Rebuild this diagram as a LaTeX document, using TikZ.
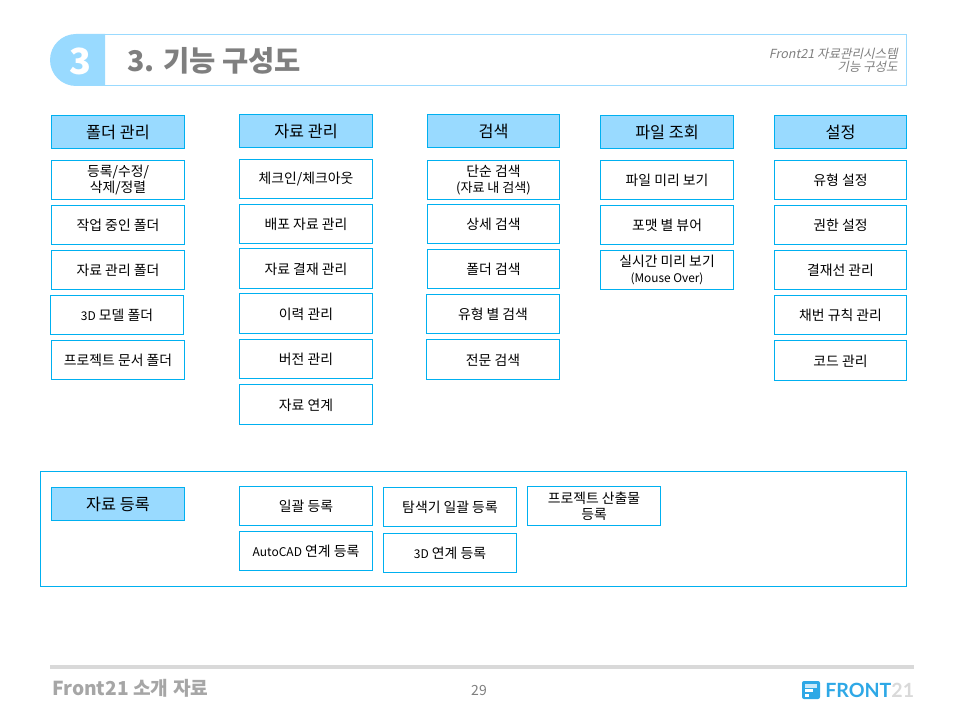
\documentclass[tikz,border=0pt]{standalone}
\usepackage{fontspec}
\setmainfont{Noto Sans CJK KR}
\newfontfamily\slfont[FakeSlant=0.22]{Noto Sans CJK KR}
\newfontfamily\logofont{Lato}
\definecolor{bluefill}{HTML}{99DAFF}
\definecolor{edgeblue}{HTML}{00B0F0}
\definecolor{titleedge}{HTML}{99DAFF}
\definecolor{titlegray}{HTML}{7F7F7F}
\definecolor{footgray}{HTML}{A6A6A6}
\definecolor{rulegray}{HTML}{D9D9D9}
\definecolor{logoblue}{HTML}{2EA8E6}
\tikzset{
  x=0.75pt,y=-0.75pt,
  box/.style={draw=edgeblue,line width=0.75pt,fill=white,inner sep=0pt,align=center,font=\fontsize{10.4}{12.2}\selectfont,text=black,execute at begin node={\rule{0pt}{0.9em}}},
  hdr/.style={box,fill=bluefill,font=\fontsize{12.2}{14}\selectfont},
  rbox/.style n args={4}{box,minimum width=(#3-#1-1)*0.75pt,minimum height=(#4-#2-1)*0.75pt,anchor=center,at={(#1/2+#3/2,#2/2+#4/2)}},
  rhdr/.style n args={4}{hdr,minimum width=(#3-#1-1)*0.75pt,minimum height=(#4-#2-1)*0.75pt,anchor=center,at={(#1/2+#3/2,#2/2+#4/2)}},
}
\begin{document}
\begin{tikzpicture}
\useasboundingbox (0,0) rectangle (960,720);
% title band
\draw[draw=titleedge,line width=0.75pt] (76,34.5) -- (906.5,34.5) -- (906.5,86) -- (76,86);
\fill[bluefill] (105,34) -- (76,34) arc[start angle=-90,end angle=-270,x radius=26,y radius=26] -- (105,86) -- cycle;
\node[text=white,font=\fontsize{27}{30}\bfseries\selectfont,anchor=center] (num) at (80,61.5) {3};
\node[text=titlegray,font=\fontsize{21.4}{24}\bfseries\selectfont,anchor=west,inner sep=0pt] (ttl) at (127,61) {3. 기능 구성도};
\node[text=titlegray,font=\slfont\fontsize{9.4}{9.6}\selectfont,align=right,anchor=east,inner sep=0pt] (sub) at (898,60) {Front21 자료관리시스템\\기능 구성도};
% column 1
\node[rhdr={51}{115}{185}{149}] (a0) {폴더 관리};
\node[rbox={51}{160}{185}{200}] (a1) {등록/수정/\\삭제/정렬};
\node[rbox={51}{205}{185}{245}] (a2) {작업 중인 폴더};
\node[rbox={51}{250}{185}{290}] (a3) {자료 관리 폴더};
\node[rbox={50}{295}{184}{335}] (a4) {{\fontsize{9}{10}\selectfont 3D} 모델 폴더};
\node[rbox={51}{340}{185}{380}] (a5) {프로젝트 문서 폴더};
% column 2
\node[rhdr={239}{114}{373}{148}] (b0) {자료 관리};
\node[rbox={239}{159}{373}{199}] (b1) {체크인/체크아웃};
\node[rbox={239}{204}{373}{244}] (b2) {배포 자료 관리};
\node[rbox={239}{248}{373}{289}] (b3) {자료 결재 관리};
\node[rbox={239}{293}{373}{334}] (b4) {이력 관리};
\node[rbox={239}{339}{373}{379}] (b5) {버전 관리};
\node[rbox={239}{384}{373}{425}] (b6) {자료 연계};
% column 3
\node[rhdr={427}{114}{560}{148}] (c0) {검색};
\node[rbox={427}{160}{560}{200}] (c1) {단순 검색\\{\fontsize{9.8}{11}\selectfont (자료 내 검색)}};
\node[rbox={427}{204}{560}{244}] (c2) {상세 검색};
\node[rbox={427}{249}{560}{289}] (c3) {폴더 검색};
\node[rbox={426}{294}{560}{334}] (c4) {유형 별 검색};
\node[rbox={426}{339}{560}{380}] (c5) {전문 검색};
% column 4
\node[rhdr={600}{115}{734}{149}] (d0) {파일 조회};
\node[rbox={600}{160}{734}{200}] (d1) {파일 미리 보기};
\node[rbox={600}{205}{734}{245}] (d2) {포맷 별 뷰어};
\node[rbox={600}{250}{734}{290}] (d3) {실시간 미리 보기\\{\fontsize{8.9}{10}\selectfont (Mouse Over)}};
% column 5
\node[rhdr={774}{115}{907}{149}] (e0) {설정};
\node[rbox={774}{160}{907}{200}] (e1) {유형 설정};
\node[rbox={774}{205}{907}{245}] (e2) {권한 설정};
\node[rbox={774}{250}{907}{290}] (e3) {결재선 관리};
\node[rbox={774}{295}{907}{335}] (e4) {채번 규칙 관리};
\node[rbox={774}{340}{907}{381}] (e5) {코드 관리};
% bottom group
\draw[edgeblue,line width=0.75pt] (40.5,471.5) rectangle (906.5,586.5);
\node[rhdr={51}{487}{185}{521}] (f0) {자료 등록};
\node[rbox={239}{486}{373}{526}] (f1) {일괄 등록};
\node[rbox={383}{487}{517}{527}] (f2) {탐색기 일괄 등록};
\node[rbox={527}{486}{661}{526}] (f3) {프로젝트 산출물\\등록};
\node[rbox={239}{531}{373}{571}] (f4) {{\fontsize{9}{10}\selectfont AutoCAD} 연계 등록};
\node[rbox={383}{533}{517}{573}] (f5) {{\fontsize{9}{10}\selectfont 3D} 연계 등록};
% footer
\fill[rulegray] (50,665) rectangle (914,669);
\node[text=footgray,font=\fontsize{14.4}{16}\bfseries\selectfont,anchor=west,inner sep=0pt] (ft) at (52,688) {Front21 소개 자료};
\node[text=titlegray,font=\fontsize{10.5}{12}\selectfont,inner sep=0pt] (pg) at (479,690.5) {29};
% logo
\fill[logoblue,rounded corners=1.5pt] (802,681) rectangle (820,699);
\fill[white!75!logoblue] (805,684) rectangle (817,687.5);
\fill[white] (805,689) rectangle (813,692);
\fill[white] (805,693.5) rectangle (809,696.5);
\node[font=\logofont\fontsize{14.7}{16}\bfseries\selectfont,anchor=west,inner sep=0pt] (logo) at (825,690) {\textcolor{logoblue}{FRONT}\textcolor{rulegray}{21}};
\end{tikzpicture}
\end{document}
